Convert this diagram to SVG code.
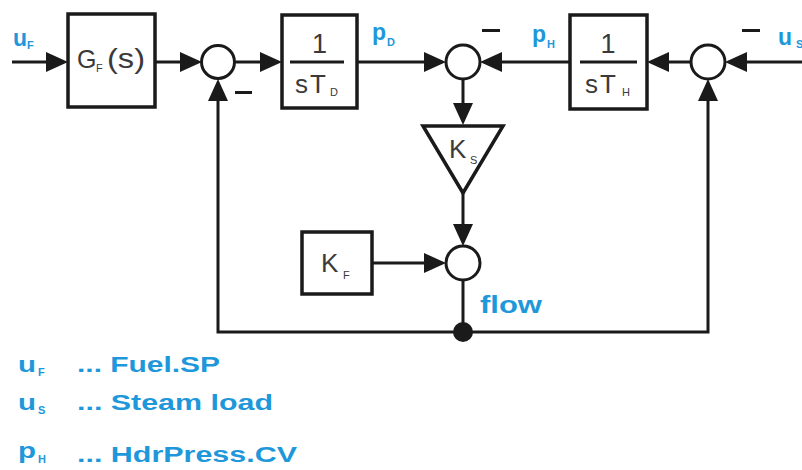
<svg xmlns="http://www.w3.org/2000/svg" width="802" height="470" viewBox="0 0 802 470">
<style>
.blk{fill:#fff;stroke:#1a1a1a;stroke-width:3.5}
.sum{fill:#fff;stroke:#1a1a1a;stroke-width:3}
.ln{fill:none;stroke:#1a1a1a;stroke-width:3}
.wire{fill:none;stroke:#1a1a1a;stroke-width:3}
.arr{marker-end:url(#ah)}
.t{font-family:"Liberation Sans",Arial,sans-serif;fill:#3a3a3a}
.b{font-family:"Liberation Sans",Arial,sans-serif;font-weight:bold;fill:#1e98da}
.minus{fill:#1a1a1a}
</style>
<defs>
<marker id="ah" markerUnits="userSpaceOnUse" markerWidth="24" markerHeight="22" refX="18" refY="10" orient="auto">
<path d="M0,0 L22,10 L0,20 Z" fill="#1a1a1a"/>
</marker>
</defs>
<rect width="802" height="470" fill="#fff"/>

<g id="connectors">
<line class="wire arr" x1="12" y1="62" x2="64" y2="62"/>
<line class="wire arr" x1="155" y1="62" x2="198" y2="62"/>
<line class="wire arr" x1="235" y1="62" x2="278" y2="62"/>
<line class="wire arr" x1="357" y1="62" x2="442" y2="62"/>
<line class="wire arr" x1="570" y1="62" x2="484" y2="62"/>
<line class="wire arr" x1="691" y1="62" x2="651" y2="62"/>
<line class="wire arr" x1="802" y1="62" x2="729" y2="62"/>
<line class="wire arr" x1="463" y1="79" x2="463" y2="121"/>
<line class="wire arr" x1="463" y1="193" x2="463" y2="242"/>
<line class="wire arr" x1="372" y1="263" x2="442" y2="263"/>
<line class="wire" x1="463" y1="280" x2="463" y2="332"/>
<polyline class="wire arr" points="463,332 218,332 218,83"/>
<polyline class="wire arr" points="463,332 708,332 708,83"/>
<circle id="junction" cx="463" cy="332" r="10" fill="#1a1a1a"/>
</g>

<g id="uF_label">
<text class="b" x="13" y="46" font-size="23">u</text>
<text class="b" x="27" y="49" font-size="11">F</text>
</g>

<g id="GF">
<rect class="blk" x="68" y="14" width="87" height="93"/>
<text class="t" x="77" y="68" font-size="25">G</text>
<text class="t" x="96" y="72" font-size="11">F</text>
<text class="t" x="107" y="68" font-size="28" textLength="38" lengthAdjust="spacingAndGlyphs">(s)</text>
</g>

<g id="sum1">
<circle class="sum" cx="218" cy="62" r="16.5"/>
<rect class="minus" x="235" y="91" width="17" height="3"/>
</g>

<g id="TD">
<rect class="blk" x="282" y="15" width="75" height="93"/>
<text class="t" x="319.5" y="53" font-size="27" text-anchor="middle">1</text>
<line class="ln" x1="290" y1="62" x2="344" y2="62"/>
<text class="t" x="295" y="93" font-size="26">s</text>
<text class="t" x="310" y="93" font-size="26">T</text>
<text class="t" x="330" y="96" font-size="11">D</text>
</g>

<g id="pD_label">
<text class="b" x="372" y="40" font-size="23">p</text>
<text class="b" x="387" y="46" font-size="11">D</text>
</g>

<g id="sum2">
<circle class="sum" cx="463" cy="62" r="17"/>
<rect class="minus" x="482" y="29" width="18" height="3"/>
</g>

<g id="pH_label">
<text class="b" x="532" y="42" font-size="23">p</text>
<text class="b" x="547" y="48" font-size="11">H</text>
</g>

<g id="TH">
<rect class="blk" x="570" y="15" width="77" height="94"/>
<text class="t" x="608" y="53" font-size="27" text-anchor="middle">1</text>
<line class="ln" x1="580" y1="62" x2="637" y2="62"/>
<text class="t" x="585" y="93" font-size="26">s</text>
<text class="t" x="600" y="93" font-size="26">T</text>
<text class="t" x="622" y="96" font-size="11">H</text>
</g>

<g id="sum3">
<circle class="sum" cx="708" cy="62" r="17"/>
<rect class="minus" x="742" y="29" width="18" height="3"/>
</g>

<g id="uS_label">
<text class="b" x="778" y="45" font-size="23">u</text>
<text class="b" x="796" y="48" font-size="11">S</text>
</g>

<g id="KS">
<polygon class="blk" points="423,126 503,126 463,193"/>
<text class="t" x="449" y="158" font-size="26">K</text>
<text class="t" x="470" y="164" font-size="11">S</text>
</g>

<g id="KF">
<rect class="blk" x="302" y="232" width="70" height="62"/>
<text class="t" x="321" y="272" font-size="26">K</text>
<text class="t" x="343" y="279" font-size="11">F</text>
</g>

<g id="sum4">
<circle class="sum" cx="463" cy="263" r="17"/>
<text class="b" x="480" y="313" font-size="24" textLength="62" lengthAdjust="spacingAndGlyphs">flow</text>
</g>

<g id="legend">
<text class="b" x="18" y="372" font-size="22" textLength="18" lengthAdjust="spacingAndGlyphs">u</text>
<text class="b" x="38" y="376" font-size="11">F</text>
<text class="b" x="77" y="372" font-size="22" textLength="143" lengthAdjust="spacingAndGlyphs">... Fuel.SP</text>
<text class="b" x="18" y="410" font-size="22" textLength="18" lengthAdjust="spacingAndGlyphs">u</text>
<text class="b" x="38" y="414" font-size="11">S</text>
<text class="b" x="77" y="410" font-size="22" textLength="196" lengthAdjust="spacingAndGlyphs">... Steam load</text>
<text class="b" x="18" y="458" font-size="22" textLength="18" lengthAdjust="spacingAndGlyphs">p</text>
<text class="b" x="38" y="463" font-size="11">H</text>
<text class="b" x="77" y="462" font-size="22" textLength="220" lengthAdjust="spacingAndGlyphs">... HdrPress.CV</text>
</g>
</svg>
